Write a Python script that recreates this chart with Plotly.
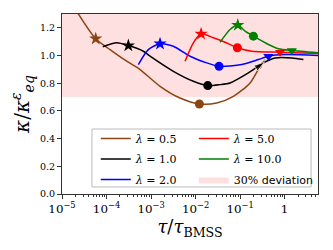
import plotly.graph_objects as go

# ---- data (log10 tau/tau_BMSS, kappa/kappa_eq) ----
lam_labels = ["0.5", "1.0", "2.0", "5.0", "10.0"]
colors = ["#8B4513", "black", "blue", "red", "green"]

x05 = [-4.75, -4.243, -3.921, -3.546, -3.247, -2.798, -2.348, -1.915, -1.524, -1.151, -0.775, -0.528, -0.438]
y05 = [1.36, 1.121, 1.043, 0.959, 0.899, 0.778, 0.693, 0.650, 0.657, 0.705, 0.802, 0.935, 0.971]

x10 = [-4.085, -3.771, -3.510, -3.173, -3.022, -2.499, -2.049, -1.726, -1.449, -1.225, -0.813, -0.454, -0.213, 0.162, 0.422]
y10 = [1.063, 1.092, 1.072, 1.031, 0.995, 0.886, 0.814, 0.783, 0.790, 0.802, 0.875, 0.951, 0.983, 0.983, 0.971]

x20 = [-3.285, -3.061, -2.798, -2.499, -2.124, -1.748, -1.472, -0.962, -0.589, -0.364, 0.011, 0.753]
y20 = [0.935, 1.043, 1.085, 1.067, 0.995, 0.947, 0.922, 0.935, 0.971, 0.995, 1.007, 1.000]

x50 = [-2.236, -2.049, -1.876, -1.600, -1.337, -1.061, -0.737, -0.101, 0.753]
y50 = [0.959, 1.092, 1.157, 1.128, 1.096, 1.056, 1.031, 1.024, 1.014]

x100 = [-1.449, -1.225, -1.052, -0.888, -0.701, -0.364, -0.139, 0.162, 0.753]
y100 = [1.096, 1.188, 1.220, 1.176, 1.140, 1.080, 1.049, 1.036, 1.020]

# indices of special points in each curve: star, dot, end marker (triangle or arrow)
star_idx = [1, 2, 2, 2, 2]
dot_idx = [7, 7, 6, 5, 4]
end_idx = [12, 11, 9, 7, 7]
end_kind = ["arrow", "arrow", "tri", "tri", "tri"]

DEV = 0.3
XRANGE = [-5, 0.75]

xs = [x05, x10, x20, x50, x100]
ys = [y05, y10, y20, y50, y100]
legend_of = ["legend", "legend", "legend", "legend2", "legend2"]

serif = "DejaVu Serif"
fig = go.Figure()

# deviation band
fig.add_trace(go.Scatter(
    x=[10 ** XRANGE[0] / 10, 10 ** XRANGE[1] * 10, 10 ** XRANGE[1] * 10, 10 ** XRANGE[0] / 10],
    y=[1 - DEV, 1 - DEV, 1 + DEV, 1 + DEV],
    fill="toself", fillcolor="rgba(255,0,0,0.12)", line=dict(width=0),
    mode="lines", name="30% <span style='font-family:DejaVu Sans'>deviation</span>",
    legend="legend2", legendgroup="dev", legendrank=10, hoverinfo="skip"))

for i in range(5):
    X = [10 ** v for v in xs[i]]
    Y = ys[i]
    c = colors[i]
    fig.add_trace(go.Scatter(x=X, y=Y, mode="lines",
                             line=dict(color=c, width=1.5, shape="spline", smoothing=0.7),
                             name=f"<i>λ</i> = {lam_labels[i]}", legend=legend_of[i],
                             legendgroup=f"g{i}", legendrank=i))
    s, d, e = star_idx[i], dot_idx[i], end_idx[i]
    fig.add_trace(go.Scatter(x=[X[s]], y=[Y[s]], mode="markers", showlegend=False,
                             marker=dict(symbol="star", size=10, color=c)))
    fig.add_trace(go.Scatter(x=[X[d]], y=[Y[d]], mode="markers", showlegend=False,
                             marker=dict(symbol="circle", size=9, color=c)))
    if end_kind[i] == "tri":
        fig.add_trace(go.Scatter(x=[X[e]], y=[Y[e]], mode="markers", showlegend=False,
                                 marker=dict(symbol="triangle-down", size=9, color=c)))
    else:
        fig.add_trace(go.Scatter(x=[X[e - 1], X[e]], y=[Y[e - 1], Y[e]], mode="markers",
                                 showlegend=False,
                                 marker=dict(symbol="arrow", size=[0, 11], color=c,
                                             angleref="previous")))

leg_common = dict(orientation="v", yanchor="top", xanchor="left", bgcolor="rgba(0,0,0,0)",
                  borderwidth=0, font=dict(family=serif, size=11), tracegroupgap=1.5,
                  itemwidth=30)

# the page body adds an 8 px offset, so the canvas is 8 px smaller than the window
fig.update_layout(
    width=325, height=242,
    margin=dict(l=54, r=15, t=6, b=56),
    plot_bgcolor="white", paper_bgcolor="white",
    font=dict(family=serif, size=10, color="black"),
    showlegend=True,
    legend=dict(x=0.132, y=0.389, **leg_common),
    legend2=dict(x=0.515, y=0.389, **leg_common),
    shapes=[dict(type="rect", xref="paper", yref="paper", x0=0.117, x1=0.973, y0=0.039, y1=0.361,
                 fillcolor="rgba(255,255,255,0.85)", line=dict(color="#bbbbbb", width=1),
                 layer="above")],
)
fig.update_xaxes(type="log", range=XRANGE, dtick=1, exponentformat="power", automargin=False,
                 showgrid=False, zeroline=False, showline=True, linecolor="#333", mirror=True,
                 ticks="outside", ticklen=4, tickcolor="#333", tickfont=dict(size=9.5),
                 minor=dict(ticks="outside", ticklen=2, tickcolor="#333", dtick="D1", showgrid=False),
                 title=dict(text="<i>τ</i>/<i>τ</i><sub>BMSS</sub>", font=dict(size=18), standoff=4))
fig.update_yaxes(range=[0, 1.3], dtick=0.2, tickformat=".1f", automargin=False,
                 showgrid=False, zeroline=False, showline=True, linecolor="#333", mirror=True,
                 ticks="outside", ticklen=4, tickcolor="#333", tickfont=dict(size=9.5),
                 title=dict(text="<i>κ</i>/<i>κ</i><sup><i>ε</i></sup><sub><i>eq</i></sub>",
                            font=dict(size=20), standoff=4))

fig.write_html("out.html")
